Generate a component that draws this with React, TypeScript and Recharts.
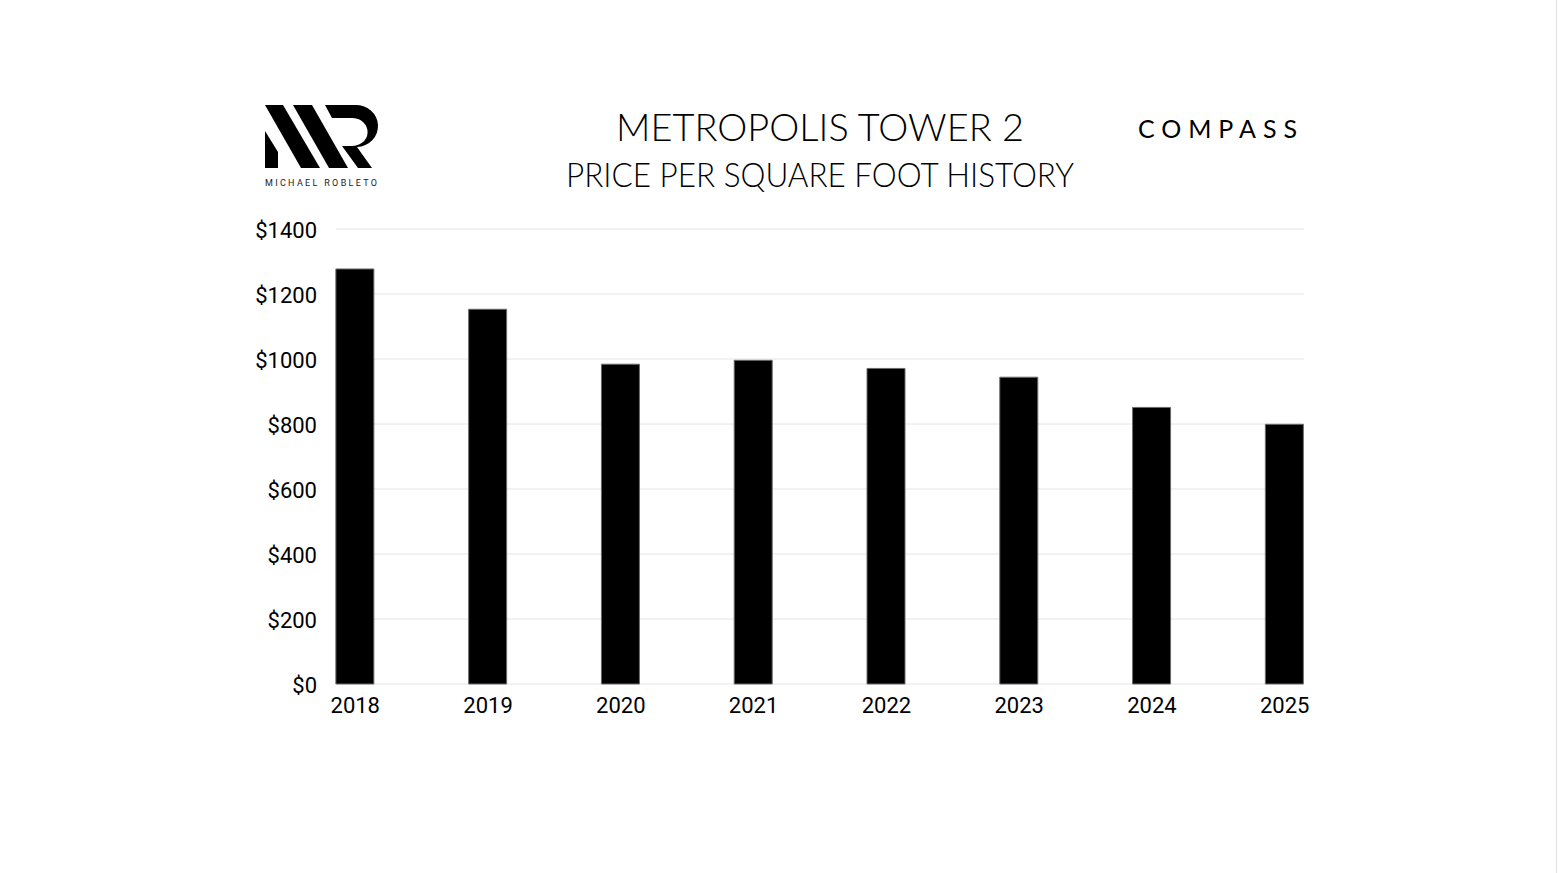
import React from "react";
import { BarChart, Bar, XAxis, YAxis, CartesianGrid } from "recharts";

const years = [2018, 2019, 2020, 2021, 2022, 2023, 2024, 2025];
const pricePerSqft = [1277, 1153, 984, 996, 971, 944, 851, 799];
const yTicks = [0, 200, 400, 600, 800, 1000, 1200, 1400];

const data = years.map((y, i) => ({ year: y, price: pricePerSqft[i] }));

const W = 1558;
const H = 873;

function Logo() {
  return (
    <g>
      <polygon points="265,105 283,105 320,168 301,168" fill="#000" />
      <polygon points="265,131 278,152 278,168 265,168" fill="#000" />
      <polygon points="293,105 312,105 348,168 329,168" fill="#000" />
      <path
        d="M325,105 L355,105 A22,21 0 0 1 357,147 L372,168 L358,168 L342,146 L351,146 A10,9 0 0 0 353,118 L332,118 Z"
        fill="#000"
      />
      <text
        x={265}
        y={186}
        fontFamily="Roboto, sans-serif"
        fontSize={9}
        fill="#222"
        textLength={112}
        lengthAdjust="spacing"
      >
        MICHAEL ROBLETO
      </text>
    </g>
  );
}

export default function App() {
  return (
    <div style={{ position: "absolute", left: 0, top: 0, width: W, height: H, background: "#fff" }}>
      <BarChart
        width={W}
        height={H}
        data={data}
        margin={{ top: 229, right: 254, bottom: 159, left: 256 }}
      >
        <CartesianGrid vertical={false} stroke="#e4e4e4" />
        <XAxis
          dataKey="year"
          type="number"
          domain={[2017.855, 2025.145]}
          ticks={years}
          tickFormatter={(v) => String(v)}
          axisLine={false}
          tickLine={false}
          tickMargin={7}
          height={30}
          interval={0}
          tick={{ fill: "#000", fontSize: 22, fontFamily: "Roboto, sans-serif" }}
        />
        <YAxis
          domain={[0, 1400]}
          ticks={yTicks}
          tickFormatter={(v) => `$${v}`}
          axisLine={false}
          tickLine={false}
          tickMargin={13}
          width={80}
          tick={{ fill: "#000", fontSize: 22, fontFamily: "Roboto, sans-serif", dy: 1 }}
        />
        <Bar
          dataKey="price"
          fill="#000"
          stroke="#6a6a6a"
          strokeWidth={1}
          barSize={38}
          isAnimationActive={false}
        />
      </BarChart>
      <svg
        width={W}
        height={H}
        style={{ position: "absolute", left: 0, top: 0, pointerEvents: "none" }}
      >
        <Logo />
        <text
          x={616}
          y={141}
          fontFamily="Lato, sans-serif"
          fontWeight={300}
          fontSize={38}
          fill="#000"
          textLength={408}
          lengthAdjust="spacingAndGlyphs"
        >
          METROPOLIS TOWER 2
        </text>
        <text
          x={566}
          y={187}
          fontFamily="Lato, sans-serif"
          fontWeight={300}
          fontSize={33}
          fill="#000"
          textLength={508}
          lengthAdjust="spacingAndGlyphs"
        >
          PRICE PER SQUARE FOOT HISTORY
        </text>
        <text
          x={1138}
          y={138}
          fontFamily="Lato, sans-serif"
          fontWeight={400}
          fontSize={25}
          fill="#000"
          textLength={159}
          lengthAdjust="spacing"
        >
          COMPASS
        </text>
        <line x1={1556.5} y1={0} x2={1556.5} y2={H} stroke="#e2e2e2" strokeWidth={1} />
      </svg>
    </div>
  );
}
